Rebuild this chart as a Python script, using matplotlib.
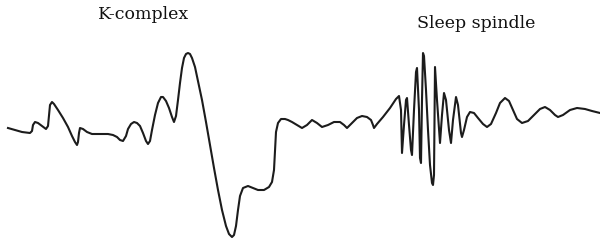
#!/usr/bin/env python3
"""
EEG sketch showing a K-complex followed by a sleep spindle.
"""
import numpy as np
import matplotlib
matplotlib.use("Agg")
import matplotlib.pyplot as plt

# Sample index and amplitude (arbitrary units, 0 = baseline)
pre_t = [8, 15, 22, 30, 32, 33, 35, 38, 42, 46, 48, 49, 50, 52, 54, 58, 63, 68, 72, 75,
         77, 78, 79, 80, 83, 87, 92, 100, 108, 113, 117, 120, 123, 126, 128, 131, 134, 137,
         140, 143, 146, 148, 150, 152, 155, 158, 161, 163, 166, 169, 172, 174]
pre_amp = [0, -2, -4, -5, -3, 3, 6, 5, 2, -1, 2, 13, 23, 26, 24, 18, 10, 1, -8, -14,
           -17, -14, -5, 0, -1, -4, -6, -6, -6, -7, -9, -12, -13, -8, -1, 4, 6, 5,
           2, -5, -13, -16, -13, -2, 13, 25, 31, 31, 27, 20, 11, 6]

kcomplex_t = [176, 178, 180, 182, 184, 186, 188, 190, 192, 195, 198, 202, 206, 210, 214,
              218, 222, 226, 229, 232, 234, 236, 238, 240, 243, 248, 253, 258, 264, 269,
              272, 274, 275, 276, 278, 281]
kcomplex_amp = [12, 28, 45, 60, 70, 74, 75, 74, 70, 61, 47, 28, 6, -17, -40,
                -62, -82, -98, -106, -109, -107, -98, -82, -68, -60, -58, -60, -62, -62, -59,
                -54, -42, -22, -4, 5, 9]

mid_t = [285, 288, 292, 297, 302, 307, 312, 317, 322, 328, 334, 340, 344, 347, 352, 357,
         362, 367, 371, 373, 374, 377, 383, 390, 396, 399]
mid_amp = [9, 8, 6, 3, 0, 3, 8, 5, 1, 3, 6, 6, 3, 0, 5, 10,
           12, 11, 8, 3, 0, 4, 11, 20, 29, 32]

spindle_t = [401, 402, 404, 406, 407, 409, 411, 412, 414, 416, 417, 419, 420, 421, 422,
             423, 424, 426, 428, 430, 432, 433, 434, 434.5, 435, 437, 440, 442, 444, 446,
             449, 451, 453, 456, 458, 461, 462, 464, 467, 470]
spindle_amp = [18, -25, 3, 28, 30, 3, -22, -27, 18, 56, 60, 18, -30, -35, 28,
               75, 72, 38, -2, -37, -55, -57, -47, 8, 61, 28, -15, 13, 35, 28,
               -2, -15, 8, 31, 23, -5, -9, -2, 11, 16]

post_t = [474, 478, 483, 487, 491, 496, 500, 505, 509, 513, 517, 522, 528, 534, 540, 545,
          550, 555, 558, 563, 570, 577, 585, 592, 600]
post_amp = [15, 10, 4, 1, 4, 15, 25, 30, 27, 18, 9, 5, 7, 13, 19, 21,
            18, 13, 11, 13, 18, 20, 19, 17, 15]

labels = ["K-complex", "Sleep spindle"]
label_t = [144, 476]
label_amp = [109, 100]


def plot_trace():
    """Draw the EEG trace with its annotations"""
    t = np.concatenate([pre_t, kcomplex_t, mid_t, spindle_t, post_t])
    amp = np.concatenate([pre_amp, kcomplex_amp, mid_amp, spindle_amp, post_amp])

    fig = plt.figure(figsize=(6.0, 2.41), dpi=100)
    ax = fig.add_axes([0, 0, 1, 1])
    ax.plot(t, amp, color="#1c1c1c", lw=1.5, solid_joinstyle="round")
    ax.set_xlim(0, 600)
    ax.set_ylim(-113, 128)
    ax.axis("off")

    # event labels above the trace
    for name, pos, height in zip(labels, label_t, label_amp):
        ax.text(pos, height, name, ha="center", va="baseline",
                family="DejaVu Serif", fontsize=12.5, color="#111111")

    fig.savefig("out.png", dpi=100)
    plt.close(fig)


if __name__ == "__main__":
    plot_trace()
